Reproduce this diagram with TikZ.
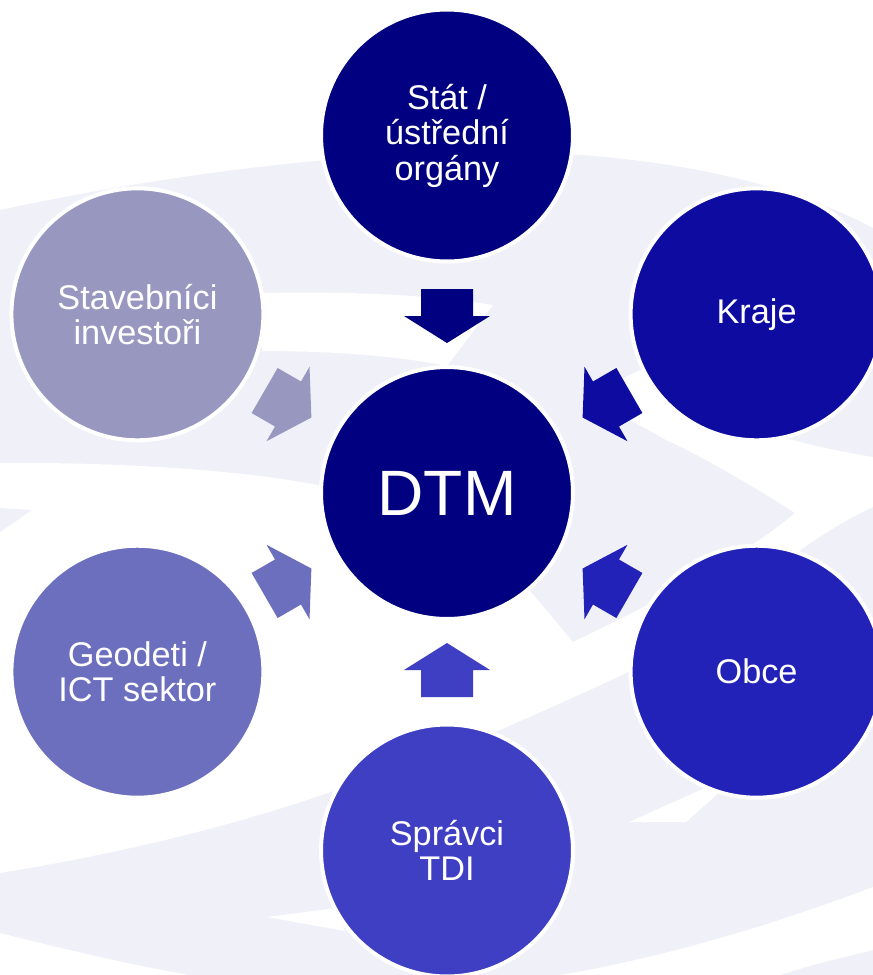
\documentclass[tikz,border=0pt]{standalone}
\usepackage{fontspec}
\setmainfont{Liberation Sans}

\definecolor{swirl}{RGB}{240,240,248}
\definecolor{navyc}{RGB}{0,0,128}
\definecolor{krajec}{RGB}{14,12,160}
\definecolor{obcec}{RGB}{34,34,184}
\definecolor{spravcic}{RGB}{63,63,196}
\definecolor{geodetic}{RGB}{108,110,190}
\definecolor{stavebc}{RGB}{152,151,192}

\begin{document}
\begin{tikzpicture}[x=0.02cm, y=-0.02cm,
	actor/.style={circle, draw=white, line width=0.08cm, minimum size=5.04cm, inner sep=0pt, align=center, text=white, font=\fontsize{19.5}{20.2}\selectfont},
	blockarr/.pic={\path[pic actions] (-27,-26) -- (0,-26) -- (0,-43) -- (27,0) -- (0,43) -- (0,26) -- (-27,26) -- cycle;}]
		\useasboundingbox (0,0) rectangle (873,975);
		\clip (0,0) rectangle (873,975);
		
		\fill[swirl] (0,210) .. controls (150,178) and (300,158) .. (447,152) .. controls (600,148) and (760,168) .. (873,228) -- (873,975) -- (0,975) -- cycle;
		\fill[white] (262,293) .. controls (350,291) and (430,295) .. (493,305) -- (447,366) .. controls (400,356) and (330,351) .. (262,351) -- cycle;
		\fill[white] (0,463) .. controls (120,462) and (240,470) .. (318,485) -- (525,585) -- (573,642) .. controls (640,610) and (740,560) .. (795,513) .. controls (760,490) and (700,455) .. (666,440) .. controls (640,425) and (610,410) .. (590,395) -- (640,370) .. controls (700,420) and (800,445) .. (873,457) -- (873,507) .. controls (780,550) and (700,640) .. (626,673) .. controls (580,695) and (540,712) .. (500,730) .. controls (440,755) and (380,775) .. (328,793) .. controls (220,830) and (110,855) .. (0,873) -- cycle;
		\fill[swirl] (0,508) -- (32,510) -- (0,532) -- cycle;
		\fill[white] (0,933) .. controls (60,948) and (130,965) .. (190,975) -- (0,975) -- cycle;
		\fill[white] (873,887) .. controls (760,930) and (650,960) .. (560,975) -- (780,975) .. controls (820,962) and (850,956) .. (873,950) -- cycle;
		\fill[white] (629,822) -- (686,822) -- (722,790) -- (705,788) -- cycle; \fill[white] (267,917) -- (345,931) -- (336,908) -- cycle;
		
		\pic[fill=navyc, rotate=-90] (arstat) at (447,316) {blockarr};
		\pic[fill=krajec, rotate=210] (arkraje) at (606,404) {blockarr};
		\pic[fill=obcec, rotate=150] (arobce) at (606,582) {blockarr};
		\pic[fill=spravcic, rotate=90] (arspravci) at (447,670) {blockarr};
		\pic[fill=geodetic, rotate=30] (argeodeti) at (288,582) {blockarr};
		\pic[fill=stavebc, rotate=-30] (arstaveb) at (288,404) {blockarr};
		
		\node[actor, fill=navyc, font=\fontsize{36.5}{40}\selectfont] (dtm) at (447,493) {DTM};
		\node[actor, fill=navyc] (stat) at (447,135.5) {Stát /\\ústřední\\orgány};
		\node[actor, fill=krajec] (kraje) at (756.6,314.3) {Kraje};
		\node[actor, fill=obcec] (obce) at (756.6,671.7) {Obce};
		\node[actor, fill=spravcic] (spravci) at (447,850.5) {Správci\\TDI};
		\node[actor, fill=geodetic] (geodeti) at (137.4,671.7) {Geodeti /\\ICT sektor};
		\node[actor, fill=stavebc] (staveb) at (137.4,314.3) {Stavebníci\\investoři};
	\end{tikzpicture}
\end{document}
